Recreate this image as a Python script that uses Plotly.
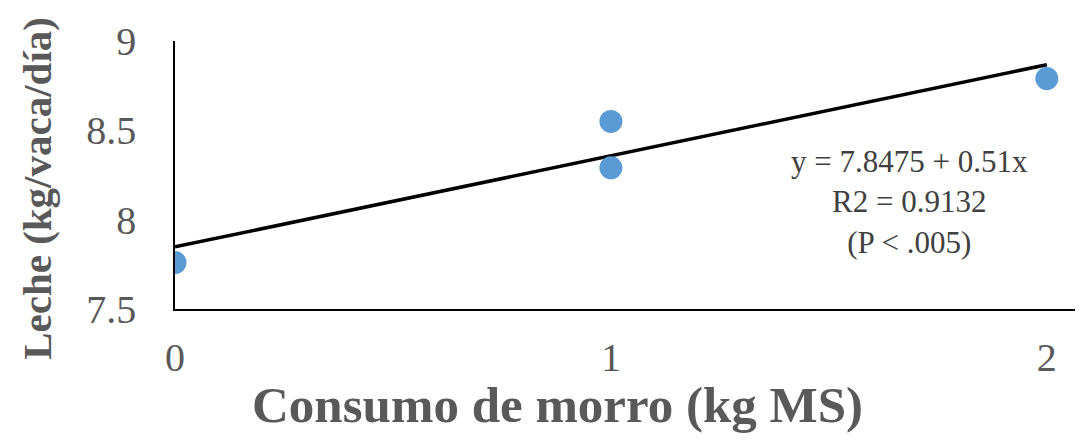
import plotly.graph_objects as go

# Data
consumo = [0, 1, 1, 2]
leche = [7.76, 8.55, 8.29, 8.79]
intercept = 7.8475
slope = 0.51
trend_x = [0, 2]
trend_y = [intercept + slope * v for v in trend_x]
x_ticks = [0, 1, 2]
y_ticks = [7.5, 8, 8.5, 9]
eq_text = "y = 7.8475 + 0.51x<br>R2 = 0.9132<br>(P < .005)"

fig = go.Figure()
fig.add_trace(go.Scatter(x=trend_x, y=trend_y, mode="lines",
                         line=dict(color="black", width=3.5), showlegend=False,
                         hoverinfo="skip"))
fig.add_trace(go.Scatter(x=consumo, y=leche, mode="markers",
                         marker=dict(color="#5B9BD5", size=23), showlegend=False))

fig.update_layout(
    width=1083, height=445,
    margin=dict(l=167, r=8, t=33, b=144),
    paper_bgcolor="white", plot_bgcolor="white",
    font=dict(family="Liberation Serif", color="#595959"),
    xaxis=dict(range=[0, 2.083], tickvals=x_ticks, ticktext=[str(v) for v in x_ticks],
               showgrid=False, zeroline=False, showline=True, linecolor="black",
               linewidth=1.5, ticks="", tickfont=dict(size=40, color="#595959"),
               ticklabelstandoff=12),
    yaxis=dict(range=[7.5, 9], tickvals=y_ticks, ticktext=["7.5", "8", "8.5", "9"],
               showgrid=False, zeroline=False, showline=True, linecolor="black",
               linewidth=1.5, ticks="", tickfont=dict(size=40, color="#595959"),
               ticklabelstandoff=29),
    annotations=[
        dict(text=eq_text, xref="paper", yref="paper", x=0.809, y=0.399,
             xanchor="center", yanchor="middle", showarrow=False, align="center",
             font=dict(family="Liberation Serif", size=31, color="#404040")),
        dict(text="<b>Consumo de morro (kg MS)</b>", xref="paper", yref="paper",
             x=0.421, y=-0.358, xanchor="center", yanchor="middle", showarrow=False,
             font=dict(family="Liberation Serif", size=51, color="#595959")),
        dict(text="<b>Leche (kg/vaca/día)</b>", xref="paper", yref="paper",
             x=-0.152, y=0.452, xanchor="center", yanchor="middle", showarrow=False,
             textangle=-90,
             font=dict(family="Liberation Serif", size=41, color="#595959")),
    ],
)

fig.write_html("out.html")
